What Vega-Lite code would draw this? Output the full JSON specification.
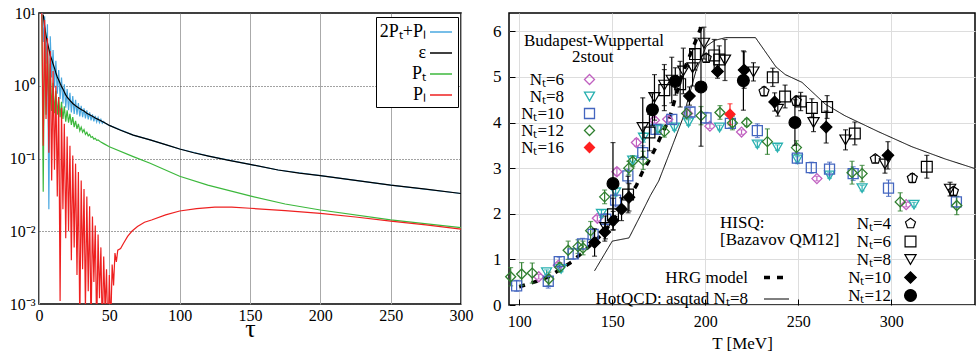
{
"$schema":"https://vega.github.io/schema/vega-lite/v6.json",
"padding":{"left":8,"top":4,"right":0,"bottom":0},
"spacing":17,
"config":{"font":"Liberation Serif","view":{"stroke":"black","strokeWidth":1.5},
"axis":{"labelFontSize":16,"labelColor":"black","titleColor":"black","titleFontWeight":"normal","domain":false,"tickColor":"black"},
"legend":{"titleFontWeight":"normal","titleColor":"black","labelColor":"black"}},
"hconcat":[
{"width":422,"height":291,
"data":{"values":[
{"t":2,"v":13,"s":"B"},{"t":3,"v":4.0,"s":"B"},{"t":4,"v":9.0,"s":"B"},{"t":5,"v":2.0,"s":"B"},{"t":6,"v":7.0,"s":"B"},{"t":7,"v":0.02,"s":"B"},{"t":8,"v":4.8,"s":"B"},{"t":9,"v":1.3,"s":"B"},{"t":10,"v":3.1,"s":"B"},{"t":11,"v":0.95,"s":"B"},{"t":12,"v":2.2,"s":"B"},{"t":13,"v":0.78,"s":"B"},{"t":14,"v":1.65,"s":"B"},{"t":15,"v":0.66,"s":"B"},{"t":16,"v":1.3,"s":"B"},{"t":17,"v":0.57,"s":"B"},{"t":18,"v":1.05,"s":"B"},{"t":19,"v":0.5,"s":"B"},{"t":20,"v":0.9,"s":"B"},{"t":21,"v":0.46,"s":"B"},{"t":22,"v":0.8,"s":"B"},{"t":23,"v":0.43,"s":"B"},{"t":24,"v":0.72,"s":"B"},{"t":25,"v":0.41,"s":"B"},{"t":26,"v":0.64,"s":"B"},{"t":27,"v":0.4,"s":"B"},{"t":28,"v":0.58,"s":"B"},{"t":29,"v":0.38,"s":"B"},{"t":30,"v":0.53,"s":"B"},{"t":31,"v":0.37,"s":"B"},{"t":32,"v":0.49,"s":"B"},{"t":33,"v":0.355,"s":"B"},{"t":34,"v":0.46,"s":"B"},{"t":35,"v":0.345,"s":"B"},{"t":36,"v":0.43,"s":"B"},{"t":37,"v":0.335,"s":"B"},{"t":38,"v":0.405,"s":"B"},{"t":39,"v":0.325,"s":"B"},{"t":40,"v":0.385,"s":"B"},{"t":41,"v":0.318,"s":"B"},{"t":42,"v":0.365,"s":"B"},{"t":43,"v":0.31,"s":"B"},{"t":44,"v":0.345,"s":"B"},{"t":45,"v":0.305,"s":"B"},{"t":46,"v":0.322,"s":"B"},{"t":47,"v":0.305,"s":"B"},{"t":50,"v":0.285,"s":"B"},{"t":67,"v":0.21,"s":"B"},{"t":79,"v":0.18,"s":"B"},{"t":100,"v":0.135,"s":"B"},{"t":120.6,"v":0.108,"s":"B"},{"t":150,"v":0.083,"s":"B"},{"t":170,"v":0.0695,"s":"B"},{"t":200,"v":0.058,"s":"B"},{"t":250,"v":0.043,"s":"B"},{"t":300,"v":0.033,"s":"B"},
{"t":3,"v":9.5,"s":"E"},{"t":4,"v":6.5,"s":"E"},{"t":5,"v":4.9,"s":"E"},{"t":6,"v":3.9,"s":"E"},{"t":7,"v":3.2,"s":"E"},{"t":8,"v":2.6,"s":"E"},{"t":9,"v":2.3,"s":"E"},{"t":10,"v":2.0,"s":"E"},{"t":11,"v":1.75,"s":"E"},{"t":12,"v":1.5,"s":"E"},{"t":13,"v":1.32,"s":"E"},{"t":14,"v":1.2,"s":"E"},{"t":15,"v":1.08,"s":"E"},{"t":16,"v":0.98,"s":"E"},{"t":17,"v":0.9,"s":"E"},{"t":18,"v":0.82,"s":"E"},{"t":19,"v":0.75,"s":"E"},{"t":20,"v":0.7,"s":"E"},{"t":22,"v":0.63,"s":"E"},{"t":24,"v":0.57,"s":"E"},{"t":26,"v":0.53,"s":"E"},{"t":28,"v":0.5,"s":"E"},{"t":30,"v":0.47,"s":"E"},{"t":32,"v":0.45,"s":"E"},{"t":34,"v":0.42,"s":"E"},{"t":36,"v":0.4,"s":"E"},{"t":38,"v":0.38,"s":"E"},{"t":40,"v":0.36,"s":"E"},{"t":42,"v":0.345,"s":"E"},{"t":44,"v":0.33,"s":"E"},{"t":46,"v":0.315,"s":"E"},{"t":48,"v":0.3,"s":"E"},{"t":50,"v":0.285,"s":"E"},{"t":58,"v":0.245,"s":"E"},{"t":67,"v":0.21,"s":"E"},{"t":79,"v":0.18,"s":"E"},{"t":90,"v":0.155,"s":"E"},{"t":100,"v":0.135,"s":"E"},{"t":110,"v":0.12,"s":"E"},{"t":120.6,"v":0.108,"s":"E"},{"t":135,"v":0.094,"s":"E"},{"t":150,"v":0.083,"s":"E"},{"t":170,"v":0.0695,"s":"E"},{"t":185,"v":0.063,"s":"E"},{"t":200,"v":0.058,"s":"E"},{"t":225,"v":0.05,"s":"E"},{"t":250,"v":0.043,"s":"E"},{"t":275,"v":0.038,"s":"E"},{"t":300,"v":0.033,"s":"E"},
{"t":2,"v":9.5,"s":"T"},{"t":3,"v":0.035,"s":"T"},{"t":4,"v":6,"s":"T"},{"t":5,"v":0.4,"s":"T"},{"t":6,"v":3.5,"s":"T"},{"t":7,"v":0.5,"s":"T"},{"t":8,"v":2.0,"s":"T"},{"t":9,"v":0.45,"s":"T"},{"t":10,"v":1.1,"s":"T"},{"t":11,"v":0.42,"s":"T"},{"t":12,"v":0.85,"s":"T"},{"t":13,"v":0.4,"s":"T"},{"t":14,"v":0.7,"s":"T"},{"t":15,"v":0.37,"s":"T"},{"t":16,"v":0.6,"s":"T"},{"t":17,"v":0.35,"s":"T"},{"t":18,"v":0.52,"s":"T"},{"t":19,"v":0.32,"s":"T"},{"t":20,"v":0.46,"s":"T"},{"t":21,"v":0.31,"s":"T"},{"t":22,"v":0.41,"s":"T"},{"t":23,"v":0.29,"s":"T"},{"t":24,"v":0.37,"s":"T"},{"t":25,"v":0.27,"s":"T"},{"t":26,"v":0.33,"s":"T"},{"t":27,"v":0.255,"s":"T"},{"t":28,"v":0.3,"s":"T"},{"t":29,"v":0.24,"s":"T"},{"t":30,"v":0.27,"s":"T"},{"t":31,"v":0.23,"s":"T"},{"t":32,"v":0.25,"s":"T"},{"t":33,"v":0.215,"s":"T"},{"t":34,"v":0.23,"s":"T"},{"t":35,"v":0.205,"s":"T"},{"t":36,"v":0.215,"s":"T"},{"t":37,"v":0.195,"s":"T"},{"t":38,"v":0.2,"s":"T"},{"t":39,"v":0.185,"s":"T"},{"t":40,"v":0.19,"s":"T"},{"t":41,"v":0.178,"s":"T"},{"t":42,"v":0.18,"s":"T"},{"t":44,"v":0.168,"s":"T"},{"t":46,"v":0.16,"s":"T"},{"t":50,"v":0.145,"s":"T"},{"t":67,"v":0.106,"s":"T"},{"t":79,"v":0.086,"s":"T"},{"t":100,"v":0.057,"s":"T"},{"t":120,"v":0.043,"s":"T"},{"t":150,"v":0.0306,"s":"T"},{"t":175,"v":0.0237,"s":"T"},{"t":200,"v":0.0196,"s":"T"},{"t":250,"v":0.0143,"s":"T"},{"t":300,"v":0.0112,"s":"T"},
{"t":2,"v":11,"s":"L"},{"t":3,"v":0.15,"s":"L"},{"t":4,"v":8,"s":"L"},{"t":5,"v":0.35,"s":"L"},{"t":6,"v":4.5,"s":"L"},{"t":7,"v":0.12,"s":"L"},{"t":8,"v":3.0,"s":"L"},{"t":9,"v":0.05,"s":"L"},{"t":10,"v":1.6,"s":"L"},{"t":11,"v":0.07,"s":"L"},{"t":12,"v":1.0,"s":"L"},{"t":13,"v":0.03,"s":"L"},{"t":14,"v":0.7,"s":"L"},{"t":15,"v":0.0011,"s":"L"},{"t":16,"v":0.5,"s":"L"},{"t":17,"v":0.02,"s":"L"},{"t":18,"v":0.3,"s":"L"},{"t":19,"v":0.008,"s":"L"},{"t":20,"v":0.2,"s":"L"},{"t":21,"v":0.01,"s":"L"},{"t":22,"v":0.15,"s":"L"},{"t":23,"v":0.004,"s":"L"},{"t":24,"v":0.11,"s":"L"},{"t":25,"v":0.006,"s":"L"},{"t":26,"v":0.085,"s":"L"},{"t":27,"v":0.0025,"s":"L"},{"t":28,"v":0.065,"s":"L"},{"t":29,"v":0.0005,"s":"L"},{"t":30,"v":0.05,"s":"L"},{"t":31,"v":0.003,"s":"L"},{"t":32,"v":0.038,"s":"L"},{"t":33,"v":0.0008,"s":"L"},{"t":34,"v":0.03,"s":"L"},{"t":35,"v":0.0015,"s":"L"},{"t":36,"v":0.022,"s":"L"},{"t":37,"v":0.0004,"s":"L"},{"t":38,"v":0.016,"s":"L"},{"t":39,"v":0.002,"s":"L"},{"t":40,"v":0.012,"s":"L"},{"t":41,"v":0.0004,"s":"L"},{"t":42,"v":0.009,"s":"L"},{"t":43,"v":0.0012,"s":"L"},{"t":44,"v":0.006,"s":"L"},{"t":45,"v":0.0004,"s":"L"},{"t":46,"v":0.0045,"s":"L"},{"t":47,"v":0.0008,"s":"L"},{"t":48,"v":0.003,"s":"L"},{"t":49,"v":0.0003,"s":"L"},{"t":50,"v":0.0025,"s":"L"},{"t":51,"v":0.0005,"s":"L"},{"t":52,"v":0.0035,"s":"L"},{"t":53,"v":0.0018,"s":"L"},{"t":54,"v":0.005,"s":"L"},{"t":55,"v":0.0038,"s":"L"},{"t":56,"v":0.0055,"s":"L"},{"t":58,"v":0.0058,"s":"L"},{"t":60,"v":0.0068,"s":"L"},{"t":63,"v":0.0085,"s":"L"},{"t":66,"v":0.01,"s":"L"},{"t":70,"v":0.0116,"s":"L"},{"t":75,"v":0.0133,"s":"L"},{"t":80,"v":0.0143,"s":"L"},{"t":90,"v":0.0168,"s":"L"},{"t":100,"v":0.019,"s":"L"},{"t":112,"v":0.0205,"s":"L"},{"t":125,"v":0.0214,"s":"L"},{"t":137,"v":0.0215,"s":"L"},{"t":150,"v":0.0207,"s":"L"},{"t":175,"v":0.0192,"s":"L"},{"t":200,"v":0.0176,"s":"L"},{"t":225,"v":0.0157,"s":"L"},{"t":250,"v":0.0138,"s":"L"},{"t":275,"v":0.0122,"s":"L"},{"t":300,"v":0.0107,"s":"L"}
]},
"mark":{"type":"line","clip":true,"strokeWidth":1.2},
"encoding":{
"x":{"field":"t","type":"quantitative","scale":{"domain":[0,300],"nice":false},
"axis":{"values":[0,50,100,150,200,250,300],"title":"τ","titleFontSize":26,"titlePadding":-8,"grid":true,"gridColor":"#aaaaaa","ticks":false,"labelPadding":3,"labelFlush":false}},
"y":{"field":"v","type":"quantitative","scale":{"type":"log","domain":[0.001,10],"nice":false},
"axis":{"values":[0.001,0.01,0.1,1,10],"labelExpr":"datum.value >= 10 ? '10¹' : datum.value >= 1 ? '10⁰' : datum.value >= 0.1 ? '10⁻¹' : datum.value >= 0.01 ? '10⁻²' : '10⁻³'","title":null,"grid":true,"gridDash":[1,2],"gridColor":"#444444","ticks":false,"labelPadding":4,"labelFlush":false}},
"color":{"field":"s","type":"nominal","sort":null,"scale":{"domain":["B","E","T","L"],"range":["#4aa8e0","#000000","#3cb83c","#ee2020"]},
"legend":{"title":null,"orient":"none","legendX":337,"legendY":4,"symbolType":"stroke","symbolSize":484,"symbolStrokeWidth":1.5,"labelFontSize":18,"labelAlign":"right","labelOffset":-27,"symbolOffset":50,"strokeColor":"black","fillColor":"white","padding":3,"rowPadding":-4,
"labelExpr":"datum.label == 'B' ? '2Pₜ+Pₗ' : datum.label == 'E' ? 'ε' : datum.label == 'T' ? 'Pₜ' : 'Pₗ'"}}
}},
{"width":466,"height":292,
"layer":[
{"data":{"values":[
{"T":100,"v":0.4,"m":"HRG model"},{"T":108,"v":0.5,"m":"HRG model"},{"T":116,"v":0.62,"m":"HRG model"},{"T":122,"v":0.78,"m":"HRG model"},{"T":128,"v":0.94,"m":"HRG model"},{"T":134,"v":1.15,"m":"HRG model"},{"T":140,"v":1.37,"m":"HRG model"},{"T":146,"v":1.62,"m":"HRG model"},{"T":150,"v":1.84,"m":"HRG model"},{"T":155,"v":2.1,"m":"HRG model"},{"T":159,"v":2.36,"m":"HRG model"},{"T":163,"v":2.62,"m":"HRG model"},{"T":166,"v":2.9,"m":"HRG model"},{"T":170,"v":3.18,"m":"HRG model"},{"T":174,"v":3.5,"m":"HRG model"},{"T":177,"v":3.78,"m":"HRG model"},{"T":180.5,"v":4.05,"m":"HRG model"},{"T":184,"v":4.55,"m":"HRG model"},{"T":187,"v":4.98,"m":"HRG model"},{"T":190,"v":5.3,"m":"HRG model"},{"T":193,"v":5.6,"m":"HRG model"},{"T":195.5,"v":5.85,"m":"HRG model"},{"T":198,"v":6.12,"m":"HRG model"},
{"T":140.5,"v":0.75,"m":"HotQCD"},{"T":150,"v":1.4,"m":"HotQCD"},{"T":159,"v":1.47,"m":"HotQCD"},{"T":165,"v":1.95,"m":"HotQCD"},{"T":170.5,"v":2.4,"m":"HotQCD"},{"T":175,"v":2.72,"m":"HotQCD"},{"T":181,"v":3.35,"m":"HotQCD"},{"T":188,"v":4.1,"m":"HotQCD"},{"T":195,"v":5.13,"m":"HotQCD"},{"T":200.5,"v":5.67,"m":"HotQCD"},{"T":205,"v":5.8,"m":"HotQCD"},{"T":211,"v":5.86,"m":"HotQCD"},{"T":227,"v":5.86,"m":"HotQCD"},{"T":238,"v":5.22,"m":"HotQCD"},{"T":243,"v":5.05,"m":"HotQCD"},{"T":252,"v":4.88,"m":"HotQCD"},{"T":264.6,"v":4.4,"m":"HotQCD"},{"T":275,"v":4.15,"m":"HotQCD"},{"T":293,"v":3.8,"m":"HotQCD"},{"T":311,"v":3.47,"m":"HotQCD"},{"T":329,"v":3.2,"m":"HotQCD"},{"T":345,"v":2.99,"m":"HotQCD"}
]},
"mark":{"type":"line","color":"black","clip":true},
"encoding":{
"x":{"field":"T","type":"quantitative","scale":{"domain":[94.5,345],"nice":false,"zero":false},
"axis":{"values":[100,150,200,250,300],"title":"T [MeV]","titleFontSize":17,"titlePadding":6,"tickSize":-6,"labelPadding":14,"labelFlush":false}},
"y":{"field":"v","type":"quantitative","scale":{"domain":[0,6.4],"nice":false},
"axis":{"values":[0,1,2,3,4,5,6],"title":null,"tickSize":-6,"labelPadding":14,"labelFontSize":17}},
"strokeDash":{"field":"m","type":"nominal","scale":{"domain":["HRG model","HotQCD"],"range":[[6,7],[1,0]]},
"legend":{"title":null,"orient":"none","legendX":87,"legendY":250,"symbolType":"stroke","symbolSize":625,"symbolStrokeColor":"black","labelFontSize":17,"labelAlign":"right","labelOffset":-43,"symbolOffset":166,"rowPadding":-8,
"labelExpr":"datum.label == 'HotQCD' ? 'HotQCD: asqtad Nₜ=8' : datum.label"}},
"strokeWidth":{"field":"m","type":"nominal","scale":{"domain":["HRG model","HotQCD"],"range":[3.5,1]}}
}},
{"data":{"values":[
{"T":110.5,"v":0.62,"e":0.05,"s":"Nₜ=6"},{"T":121,"v":0.87,"e":0.05,"s":"Nₜ=6"},{"T":142,"v":1.9,"e":0.06,"s":"Nₜ=6"},{"T":152.5,"v":2.92,"e":0.08,"s":"Nₜ=6"},{"T":163,"v":3.56,"e":0.08,"s":"Nₜ=6"},{"T":172.7,"v":4.05,"e":0.06,"s":"Nₜ=6"},{"T":179.8,"v":4.07,"e":0.06,"s":"Nₜ=6"},{"T":190.5,"v":4.2,"e":0.08,"s":"Nₜ=6"},{"T":202.5,"v":3.92,"e":0.05,"s":"Nₜ=6"},{"T":219.5,"v":3.79,"e":0.05,"s":"Nₜ=6"},{"T":260,"v":2.77,"e":0.05,"s":"Nₜ=6"},{"T":308,"v":2.2,"e":0.05,"s":"Nₜ=6"},
{"T":114.7,"v":0.72,"e":0.05,"s":"Nₜ=8"},{"T":122.5,"v":0.79,"e":0.06,"s":"Nₜ=8"},{"T":144.2,"v":2.0,"e":0.08,"s":"Nₜ=8"},{"T":151.8,"v":2.47,"e":0.08,"s":"Nₜ=8"},{"T":161,"v":3.17,"e":0.1,"s":"Nₜ=8"},{"T":166.8,"v":3.67,"e":0.1,"s":"Nₜ=8"},{"T":174.5,"v":3.85,"e":0.08,"s":"Nₜ=8"},{"T":183.4,"v":3.89,"e":0.06,"s":"Nₜ=8"},{"T":191,"v":4.0,"e":0.06,"s":"Nₜ=8"},{"T":207.7,"v":3.89,"e":0.05,"s":"Nₜ=8"},{"T":228,"v":3.52,"e":0.06,"s":"Nₜ=8"},{"T":238.8,"v":3.45,"e":0.06,"s":"Nₜ=8"},{"T":249.5,"v":3.19,"e":0.06,"s":"Nₜ=8"},{"T":266.8,"v":2.84,"e":0.06,"s":"Nₜ=8"},{"T":284.3,"v":2.56,"e":0.06,"s":"Nₜ=8"},{"T":312.2,"v":2.2,"e":0.05,"s":"Nₜ=8"},
{"T":98.6,"v":0.42,"e":0.12,"s":"Nₜ=10"},{"T":115.6,"v":0.52,"e":0.15,"s":"Nₜ=10"},{"T":121.5,"v":0.95,"e":0.1,"s":"Nₜ=10"},{"T":129,"v":1.12,"e":0.12,"s":"Nₜ=10"},{"T":134,"v":1.34,"e":0.12,"s":"Nₜ=10"},{"T":139.7,"v":1.55,"e":0.12,"s":"Nₜ=10"},{"T":146.5,"v":1.88,"e":0.12,"s":"Nₜ=10"},{"T":151.8,"v":2.3,"e":0.15,"s":"Nₜ=10"},{"T":158.4,"v":2.83,"e":0.15,"s":"Nₜ=10"},{"T":166.4,"v":3.34,"e":0.15,"s":"Nₜ=10"},{"T":173.5,"v":3.85,"e":0.1,"s":"Nₜ=10"},{"T":182,"v":4.07,"e":0.1,"s":"Nₜ=10"},{"T":191.8,"v":4.23,"e":0.1,"s":"Nₜ=10"},{"T":200.4,"v":4.1,"e":0.12,"s":"Nₜ=10"},{"T":213.5,"v":3.98,"e":0.1,"s":"Nₜ=10"},{"T":228,"v":3.82,"e":0.15,"s":"Nₜ=10"},{"T":249.5,"v":3.22,"e":0.12,"s":"Nₜ=10"},{"T":257,"v":3.01,"e":0.12,"s":"Nₜ=10"},{"T":266.8,"v":2.98,"e":0.15,"s":"Nₜ=10"},{"T":279.5,"v":2.88,"e":0.15,"s":"Nₜ=10"},{"T":298.5,"v":2.56,"e":0.18,"s":"Nₜ=10"},{"T":335,"v":2.26,"e":0.12,"s":"Nₜ=10"},
{"T":95.4,"v":0.62,"e":0.2,"s":"Nₜ=12"},{"T":101.3,"v":0.68,"e":0.25,"s":"Nₜ=12"},{"T":107,"v":0.7,"e":0.22,"s":"Nₜ=12"},{"T":115.9,"v":0.57,"e":0.15,"s":"Nₜ=12"},{"T":121.8,"v":0.83,"e":0.1,"s":"Nₜ=12"},{"T":126.3,"v":1.2,"e":0.2,"s":"Nₜ=12"},{"T":131.6,"v":1.28,"e":0.15,"s":"Nₜ=12"},{"T":134.3,"v":1.25,"e":0.15,"s":"Nₜ=12"},{"T":138.4,"v":1.63,"e":0.2,"s":"Nₜ=12"},{"T":145.9,"v":2.37,"e":0.15,"s":"Nₜ=12"},{"T":158.9,"v":3.0,"e":0.15,"s":"Nₜ=12"},{"T":161,"v":3.15,"e":0.12,"s":"Nₜ=12"},{"T":166.6,"v":3.17,"e":0.2,"s":"Nₜ=12"},{"T":178,"v":3.8,"e":0.12,"s":"Nₜ=12"},{"T":190,"v":4.2,"e":0.12,"s":"Nₜ=12"},{"T":197.7,"v":4.15,"e":0.2,"s":"Nₜ=12"},{"T":207.9,"v":4.22,"e":0.15,"s":"Nₜ=12"},{"T":214.6,"v":3.99,"e":0.15,"s":"Nₜ=12"},{"T":222.3,"v":4.0,"e":0.08,"s":"Nₜ=12"},{"T":233.4,"v":3.58,"e":0.28,"s":"Nₜ=12"},{"T":249,"v":3.45,"e":0.15,"s":"Nₜ=12"},{"T":278.9,"v":2.9,"e":0.25,"s":"Nₜ=12"},{"T":284.3,"v":2.88,"e":0.18,"s":"Nₜ=12"},{"T":304.8,"v":2.26,"e":0.2,"s":"Nₜ=12"},{"T":335.2,"v":2.18,"e":0.2,"s":"Nₜ=12"},
{"T":213.3,"v":4.18,"e":0.23,"s":"Nₜ=16"}
]},
"layer":[
{"transform":[{"filter":"datum.s == 'Nₜ=6'"}],"mark":{"type":"errorbar","ticks":true,"thickness":1.2,"color":"#c060c0"},
"encoding":{"x":{"field":"T","type":"quantitative"},"y":{"field":"v","type":"quantitative"},"yError":{"field":"e"}}},
{"transform":[{"filter":"datum.s == 'Nₜ=8'"}],"mark":{"type":"errorbar","ticks":true,"thickness":1.2,"color":"#28b0b0"},
"encoding":{"x":{"field":"T","type":"quantitative"},"y":{"field":"v","type":"quantitative"},"yError":{"field":"e"}}},
{"transform":[{"filter":"datum.s == 'Nₜ=10'"}],"mark":{"type":"errorbar","ticks":true,"thickness":1.2,"color":"#4466c0"},
"encoding":{"x":{"field":"T","type":"quantitative"},"y":{"field":"v","type":"quantitative"},"yError":{"field":"e"}}},
{"transform":[{"filter":"datum.s == 'Nₜ=12'"}],"mark":{"type":"errorbar","ticks":true,"thickness":1.2,"color":"#2f7f2f"},
"encoding":{"x":{"field":"T","type":"quantitative"},"y":{"field":"v","type":"quantitative"},"yError":{"field":"e"}}},
{"transform":[{"filter":"datum.s == 'Nₜ=16'"}],"mark":{"type":"errorbar","ticks":true,"thickness":1.2,"color":"#ff2020"},
"encoding":{"x":{"field":"T","type":"quantitative"},"y":{"field":"v","type":"quantitative"},"yError":{"field":"e"}}},
{"mark":{"type":"point","filled":false,"strokeWidth":1.3,"opacity":1},
"encoding":{"x":{"field":"T","type":"quantitative"},"y":{"field":"v","type":"quantitative"},
"color":{"field":"s","type":"nominal","scale":{"domain":["Nₜ=6","Nₜ=8","Nₜ=10","Nₜ=12","Nₜ=16"],"range":["#c060c0","#28b0b0","#4466c0","#2f7f2f","#ff2020"]},
"legend":{"title":["Budapest-Wuppertal","\u2800\u2800\u2800\u28002stout"],"titleFontSize":17,"titleAnchor":"start","titleAlign":"left","titleLineHeight":16,"titlePadding":5,"orient":"none","legendX":15,"legendY":20,"labelFontSize":17,"labelAlign":"right","labelOffset":-34,"symbolOffset":57,"rowPadding":-1,"symbolStrokeWidth":1.3}},
"fill":{"field":"s","type":"nominal","scale":{"domain":["Nₜ=6","Nₜ=8","Nₜ=10","Nₜ=12","Nₜ=16"],"range":["transparent","transparent","transparent","transparent","#ff2020"]}},
"shape":{"field":"s","type":"nominal","scale":{"domain":["Nₜ=6","Nₜ=8","Nₜ=10","Nₜ=12","Nₜ=16"],"range":["diamond","triangle-down","square","diamond","diamond"]}},
"size":{"field":"s","type":"nominal","scale":{"domain":["Nₜ=6","Nₜ=8","Nₜ=10","Nₜ=12","Nₜ=16"],"range":[100,100,110,100,60]}}
}}
]},
{"data":{"values":[
{"T":200.5,"v":5.41,"e":0.08,"s":"Nₜ=4"},{"T":231.6,"v":4.68,"e":0.1,"s":"Nₜ=4"},{"T":248.9,"v":4.47,"e":0.1,"s":"Nₜ=4"},{"T":291.4,"v":3.2,"e":0.08,"s":"Nₜ=4"},{"T":311.3,"v":2.78,"e":0.1,"s":"Nₜ=4"},{"T":333.4,"v":2.49,"e":0.08,"s":"Nₜ=4"},
{"T":150.4,"v":1.99,"e":0.35,"s":"Nₜ=6"},{"T":158.5,"v":2.42,"e":0.4,"s":"Nₜ=6"},{"T":170,"v":3.78,"e":0.4,"s":"Nₜ=6"},{"T":178,"v":4.71,"e":0.45,"s":"Nₜ=6"},{"T":186.5,"v":4.84,"e":0.5,"s":"Nₜ=6"},{"T":194.5,"v":5.5,"e":0.35,"s":"Nₜ=6"},{"T":204.8,"v":5.47,"e":0.35,"s":"Nₜ=6"},{"T":207.5,"v":5.38,"e":0.3,"s":"Nₜ=6"},{"T":236.3,"v":4.99,"e":0.2,"s":"Nₜ=6"},{"T":242.9,"v":4.57,"e":0.25,"s":"Nₜ=6"},{"T":251.3,"v":4.46,"e":0.2,"s":"Nₜ=6"},{"T":257.3,"v":4.32,"e":0.2,"s":"Nₜ=6"},{"T":265.5,"v":4.34,"e":0.25,"s":"Nₜ=6"},{"T":280.4,"v":3.76,"e":0.25,"s":"Nₜ=6"},{"T":319.1,"v":3.03,"e":0.25,"s":"Nₜ=6"},
{"T":146.3,"v":1.7,"e":0.25,"s":"Nₜ=8"},{"T":166.4,"v":3.89,"e":0.65,"s":"Nₜ=8"},{"T":172.7,"v":4.55,"e":0.5,"s":"Nₜ=8"},{"T":178,"v":4.82,"e":0.45,"s":"Nₜ=8"},{"T":182,"v":4.93,"e":0.5,"s":"Nₜ=8"},{"T":188.2,"v":5.13,"e":0.5,"s":"Nₜ=8"},{"T":193.2,"v":5.2,"e":0.4,"s":"Nₜ=8"},{"T":199.3,"v":5.74,"e":0.35,"s":"Nₜ=8"},{"T":210.6,"v":5.37,"e":0.45,"s":"Nₜ=8"},{"T":225.9,"v":5.11,"e":0.2,"s":"Nₜ=8"},{"T":239,"v":4.29,"e":0.15,"s":"Nₜ=8"},{"T":258.2,"v":4.0,"e":0.2,"s":"Nₜ=8"},{"T":275.4,"v":3.62,"e":0.22,"s":"Nₜ=8"},{"T":296.6,"v":3.09,"e":0.2,"s":"Nₜ=8"},{"T":331.6,"v":2.54,"e":0.15,"s":"Nₜ=8"},
{"T":140.5,"v":1.37,"e":0.3,"s":"Nₜ=10"},{"T":146,"v":1.6,"e":0.2,"s":"Nₜ=10"},{"T":150.5,"v":1.85,"e":0.2,"s":"Nₜ=10"},{"T":155,"v":2.1,"e":0.25,"s":"Nₜ=10"},{"T":159,"v":2.36,"e":0.3,"s":"Nₜ=10"},{"T":191.5,"v":4.58,"e":0.2,"s":"Nₜ=10"},{"T":206.6,"v":5.12,"e":0.15,"s":"Nₜ=10"},{"T":220.9,"v":5.15,"e":0.4,"s":"Nₜ=10"},{"T":237.3,"v":4.45,"e":0.2,"s":"Nₜ=10"},{"T":265,"v":3.9,"e":0.35,"s":"Nₜ=10"},{"T":298.2,"v":3.28,"e":0.3,"s":"Nₜ=10"},
{"T":150.4,"v":2.66,"e":0.9,"s":"Nₜ=12"},{"T":171.6,"v":4.28,"e":0.35,"s":"Nₜ=12"},{"T":183.9,"v":4.9,"e":0.3,"s":"Nₜ=12"},{"T":197.7,"v":4.78,"e":1.3,"s":"Nₜ=12"},{"T":220.5,"v":4.92,"e":0.65,"s":"Nₜ=12"},{"T":248.2,"v":4.0,"e":0.5,"s":"Nₜ=12"}
]},
"layer":[
{"mark":{"type":"errorbar","ticks":true,"thickness":1.2,"color":"black"},
"encoding":{"x":{"field":"T","type":"quantitative"},"y":{"field":"v","type":"quantitative"},"yError":{"field":"e"}}},
{"mark":{"type":"point","filled":false,"strokeWidth":1.2,"opacity":1,"stroke":"black"},
"encoding":{"x":{"field":"T","type":"quantitative"},"y":{"field":"v","type":"quantitative"},
"shape":{"field":"s","type":"nominal","scale":{"domain":["Nₜ=4","Nₜ=6","Nₜ=8","Nₜ=10","Nₜ=12"],"range":["M0,-1L0.951,-0.309L0.588,0.809L-0.588,0.809L-0.951,-0.309Z","square","triangle-down","diamond","circle"]},
"legend":{"title":["HISQ:","[Bazavov QM12]"],"titleOrient":"left","titleAnchor":"start","titleFontSize":17,"titleLineHeight":17,"titlePadding":1,"orient":"none","legendX":211,"legendY":202,"labelFontSize":17,"labelAlign":"right","labelOffset":-28,"symbolOffset":61,"rowPadding":0,"symbolStrokeColor":"black","symbolStrokeWidth":1.2}},
"fill":{"field":"s","type":"nominal","scale":{"domain":["Nₜ=4","Nₜ=6","Nₜ=8","Nₜ=10","Nₜ=12"],"range":["transparent","transparent","transparent","black","black"]}},
"size":{"field":"s","type":"nominal","scale":{"domain":["Nₜ=4","Nₜ=6","Nₜ=8","Nₜ=10","Nₜ=12"],"range":[110,140,130,50,100]}}
}}
]}
],
"resolve":{"scale":{"color":"independent","shape":"independent","fill":"independent","size":"independent","strokeDash":"independent","strokeWidth":"independent"}}
}
]
}
